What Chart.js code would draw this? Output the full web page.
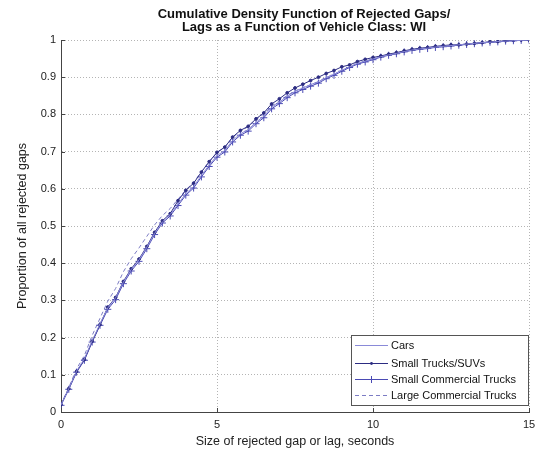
<!DOCTYPE html>
<html>
<head>
<meta charset="utf-8">
<script src="https://cdn.jsdelivr.net/npm/chart.js@4.4.1/dist/chart.umd.min.js"></script>
<style>
  html, body { margin: 0; padding: 0; background: #fff; }
  #wrap { width: 546px; height: 456px; }
</style>
</head>
<body>
<div id="wrap"><canvas id="cdf_chart" width="546" height="456"></canvas></div>
<script>
// gap / lag size, seconds
const gapSizes = [0, 0.25, 0.5, 0.75, 1, 1.25, 1.5, 1.75, 2, 2.25, 2.5, 2.75, 3, 3.25, 3.5, 3.75,
  4, 4.25, 4.5, 4.75, 5, 5.25, 5.5, 5.75, 6, 6.25, 6.5, 6.75, 7, 7.25, 7.5, 7.75,
  8, 8.25, 8.5, 8.75, 9, 9.25, 9.5, 9.75, 10, 10.25, 10.5, 10.75, 11, 11.25, 11.5, 11.75,
  12, 12.25, 12.5, 12.75, 13, 13.25, 13.5, 13.75, 14, 14.25, 14.5, 14.75, 15]

const cars = [0.019, 0.063, 0.110, 0.143, 0.192, 0.237, 0.280, 0.307, 0.349, 0.383,
  0.409, 0.443, 0.480, 0.511, 0.531, 0.559, 0.587, 0.606, 0.636, 0.664,
  0.689, 0.703, 0.730, 0.748, 0.759, 0.779, 0.795, 0.819, 0.833, 0.849,
  0.862, 0.871, 0.880, 0.888, 0.899, 0.908, 0.919, 0.928, 0.937, 0.943,
  0.949, 0.955, 0.960, 0.964, 0.969, 0.973, 0.976, 0.978, 0.981, 0.983,
  0.985, 0.987, 0.989, 0.991, 0.993, 0.994, 0.996, 0.997, 0.998, 0.999, 1.000]

const smallTrucks = [0.020, 0.063, 0.109, 0.141, 0.190, 0.235, 0.282, 0.308, 0.351, 0.385,
  0.411, 0.445, 0.483, 0.514, 0.533, 0.568, 0.596, 0.615, 0.645, 0.673,
  0.698, 0.712, 0.739, 0.757, 0.768, 0.788, 0.804, 0.828, 0.842, 0.858,
  0.871, 0.881, 0.891, 0.900, 0.910, 0.918, 0.928, 0.933, 0.942, 0.948,
  0.953, 0.957, 0.962, 0.966, 0.971, 0.975, 0.978, 0.980, 0.983, 0.985,
  0.987, 0.987, 0.989, 0.991, 0.993, 0.995, 0.996, 0.998, 0.999, 1.000, 1.000]

const smallCommercial = [0.018, 0.061, 0.107, 0.139, 0.188, 0.233, 0.276, 0.302, 0.345, 0.379,
  0.405, 0.439, 0.477, 0.508, 0.527, 0.555, 0.583, 0.602, 0.632, 0.660,
  0.685, 0.699, 0.726, 0.744, 0.755, 0.775, 0.791, 0.815, 0.829, 0.845,
  0.858, 0.867, 0.876, 0.884, 0.896, 0.905, 0.916, 0.926, 0.935, 0.941,
  0.947, 0.954, 0.959, 0.963, 0.968, 0.972, 0.975, 0.977, 0.980, 0.982,
  0.984, 0.986, 0.988, 0.990, 0.992, 0.994, 0.995, 0.997, 0.998, 0.999, 1.000]

const largeCommercial = [0.020, 0.066, 0.116, 0.152, 0.206, 0.252, 0.298, 0.332, 0.377, 0.412,
  0.441, 0.472, 0.503, 0.528, 0.547, 0.572, 0.597, 0.617, 0.646, 0.673,
  0.697, 0.712, 0.738, 0.755, 0.767, 0.786, 0.801, 0.822, 0.836, 0.851,
  0.863, 0.872, 0.880, 0.888, 0.899, 0.908, 0.918, 0.928, 0.936, 0.943,
  0.949, 0.955, 0.960, 0.964, 0.969, 0.973, 0.976, 0.978, 0.981, 0.983,
  0.985, 0.987, 0.989, 0.991, 0.993, 0.994, 0.996, 0.997, 0.998, 0.999, 1.000]

const seriesNames = ["Cars", "Small Trucks/SUVs", "Small Commercial Trucks", "Large Commercial Trucks"]
const titleLines = ["Cumulative Density Function of Rejected Gaps/", "Lags as a Function of Vehicle Class: WI"]
const xTicks = [0, 5, 10, 15]

const FONT = "'Liberation Sans', Arial, sans-serif"

function toPoints(ys) {
  return gapSizes.map(function (x, i) { return { x: x, y: ys[i] } })
}

// two line title, matlab puts it a bit right of the plot centre
const topTitle = {
  id: 'topTitle',
  afterDraw: function (chart) {
    const ctx = chart.ctx
    ctx.save()
    ctx.font = 'bold 13px ' + FONT
    ctx.fillStyle = '#111'
    ctx.textAlign = 'center'
    ctx.textBaseline = 'alphabetic'
    ctx.fillText(titleLines[0], 304, 18)
    ctx.fillText(titleLines[1], 304, 31)
    ctx.restore()
  }
}

// small inward tick marks on left and bottom axis
const innerTicks = {
  id: 'innerTicks',
  afterDraw: function (chart) {
    const ctx = chart.ctx
    const area = chart.chartArea
    const xs = chart.scales.x, ys = chart.scales.y
    ctx.save()
    ctx.strokeStyle = '#444'
    ctx.lineWidth = 1
    ctx.beginPath()
    ys.ticks.forEach(function (t) {
      const y = Math.round(ys.getPixelForValue(t.value)) + 0.5
      ctx.moveTo(area.left, y)
      ctx.lineTo(area.left + 4, y)
    })
    xs.ticks.forEach(function (t) {
      const x = Math.round(xs.getPixelForValue(t.value)) + 0.5
      ctx.moveTo(x, area.bottom)
      ctx.lineTo(x, area.bottom - 4)
    })
    ctx.stroke()
    ctx.restore()
  }
}

// legend box drawn inside the plot, lower right (matlab style)
const boxLegend = {
  id: 'boxLegend',
  afterDraw: function (chart) {
    const ctx = chart.ctx
    const area = chart.chartArea
    const w = 178, h = 71
    const left = area.right - w
    const top = area.bottom - 6 - h
    ctx.save()
    ctx.fillStyle = '#fff'
    ctx.fillRect(left, top, w, h)
    ctx.strokeStyle = '#555'
    ctx.lineWidth = 1
    ctx.strokeRect(left + 0.5, top + 0.5, w - 1, h - 1)
    const rows = [10, 27.5, 43.5, 60]
    ctx.font = '11px ' + FONT
    ctx.textBaseline = 'middle'
    chart.data.datasets.forEach(function (ds, i) {
      const y = Math.round(top + rows[i]) + 0.5
      ctx.strokeStyle = ds.borderColor
      ctx.lineWidth = 1
      ctx.setLineDash(ds.borderDash || [])
      ctx.beginPath()
      ctx.moveTo(left + 4, y)
      ctx.lineTo(left + 37, y)
      ctx.stroke()
      ctx.setLineDash([])
      const mx = left + 20.5
      if (ds.pointStyle === 'circle' && ds.pointRadius > 0) {
        ctx.fillStyle = ds.borderColor
        ctx.beginPath()
        ctx.arc(mx, y, ds.pointRadius, 0, Math.PI * 2)
        ctx.fill()
      } else if (ds.pointStyle === 'cross') {
        ctx.beginPath()
        ctx.moveTo(mx, y - ds.pointRadius)
        ctx.lineTo(mx, y + ds.pointRadius)
        ctx.moveTo(mx - ds.pointRadius, y)
        ctx.lineTo(mx + ds.pointRadius, y)
        ctx.stroke()
      }
      ctx.fillStyle = '#111'
      ctx.fillText(ds.label, left + 40, y)
    })
    ctx.restore()
  }
}

let ctx = document.getElementById('cdf_chart')
let cdfChart = new Chart(ctx, {
  type: 'scatter',
  data: {
    datasets: [{
      label: seriesNames[0],
      data: toPoints(cars),
      showLine: true,
      borderColor: '#8a8ad8',
      borderWidth: 1,
      pointRadius: 0
    }, {
      label: seriesNames[1],
      data: toPoints(smallTrucks),
      showLine: true,
      borderColor: '#2c2c82',
      backgroundColor: '#2c2c82',
      borderWidth: 1,
      pointStyle: 'circle',
      pointRadius: 1.4
    }, {
      label: seriesNames[2],
      data: toPoints(smallCommercial),
      showLine: true,
      borderColor: '#4a4ab4',
      borderWidth: 1,
      pointStyle: 'cross',
      pointRadius: 3.5,
      pointBorderWidth: 1
    }, {
      label: seriesNames[3],
      data: toPoints(largeCommercial),
      showLine: true,
      borderColor: '#7c7cc4',
      borderWidth: 1,
      borderDash: [4, 3],
      pointRadius: 0
    }]
  },
  options: {
    responsive: false,
    animation: false,
    layout: { padding: { top: 40, right: 17, left: 0, bottom: 0 } },
    plugins: {
      legend: { display: false },
      tooltip: { enabled: false },
      title: { display: false }
    },
    scales: {
      x: {
        type: 'linear',
        min: 0,
        max: 15,
        afterBuildTicks: function (scale) {
          scale.ticks = xTicks.map(function (v) { return { value: v } })
        },
        afterFit: function (scale) { scale.height = 44 },
        grid: { color: '#b4b4b4', drawTicks: false },
        border: { color: '#444', width: 1, dash: [1, 2] },
        ticks: { color: '#222', font: { family: FONT, size: 11 }, padding: 6, maxRotation: 0 },
        title: {
          display: true,
          text: 'Size of rejected gap or lag, seconds',
          color: '#222',
          font: { family: FONT, size: 12.5 },
          padding: { top: 0, bottom: 7 }
        }
      },
      y: {
        min: 0,
        max: 1,
        afterFit: function (scale) { scale.width = 61 },
        grid: { color: '#b4b4b4', drawTicks: false },
        border: { color: '#444', width: 1, dash: [1, 2] },
        ticks: {
          stepSize: 0.1,
          color: '#222',
          font: { family: FONT, size: 11 },
          padding: 5,
          callback: function (v) { return String(+v.toFixed(1)) }
        },
        title: {
          display: true,
          text: 'Proportion of all rejected gaps',
          color: '#222',
          font: { family: FONT, size: 12.5 },
          padding: { top: 15, bottom: 0 }
        }
      }
    }
  },
  plugins: [topTitle, innerTicks, boxLegend]
})
</script>
</body>
</html>
